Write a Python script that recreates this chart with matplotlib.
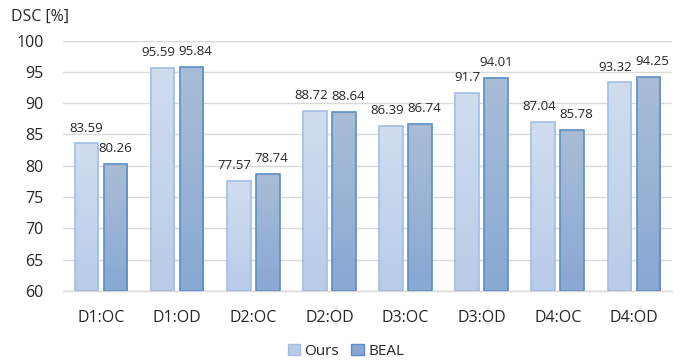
import numpy as np
import matplotlib
matplotlib.use("Agg")
import matplotlib.pyplot as plt
from matplotlib.patches import Patch
from matplotlib.colors import LinearSegmentedColormap

categories = ["D1:OC", "D1:OD", "D2:OC", "D2:OD", "D3:OC", "D3:OD", "D4:OC", "D4:OD"]
ours = [83.59, 95.59, 77.57, 88.72, 86.39, 91.7, 87.04, 93.32]
beal = [80.26, 95.84, 78.74, 88.64, 86.74, 94.01, 85.78, 94.25]
ours_labels = ["83.59", "95.59", "77.57", "88.72", "86.39", "91.7", "87.04", "93.32"]
beal_labels = ["80.26", "95.84", "78.74", "88.64", "86.74", "94.01", "85.78", "94.25"]
series_names = ["Ours", "BEAL"]
yticks = [60, 65, 70, 75, 80, 85, 90, 95, 100]

plt.rcParams["font.family"] = ["Open Sans", "DejaVu Sans"]

fig = plt.figure(figsize=(6.92, 3.64), dpi=100)
ax = fig.add_axes([0.091, 0.2005, 0.880, 0.688])

ymin, ymax = 60, 100
bar_w = 0.31
gap = 0.07
x = np.arange(len(categories))

styles = {
    "Ours": dict(top="#d0ddef", bottom="#b8cce8", edge="#a2bfe3"),
    "BEAL": dict(top="#aabdd7", bottom="#88a8d2", edge="#5b8ec6"),
}

def gradient_bars(xs, vals, style):
    cmap = LinearSegmentedColormap.from_list("g", [style["bottom"], style["top"]])
    grad = np.linspace(0, 1, 256).reshape(-1, 1)
    bars = ax.bar(xs, np.array(vals) - ymin, bottom=ymin, width=bar_w,
                  facecolor="none", edgecolor=style["edge"], linewidth=1.2, zorder=3)
    for b in bars:
        x0, y0 = b.get_x(), b.get_y()
        w, h = b.get_width(), b.get_height()
        im = ax.imshow(grad, cmap=cmap, origin="lower", aspect="auto",
                       extent=(x0, x0 + w, y0, y0 + h), zorder=2, interpolation="bicubic")
        im.set_clip_path(b)
    return bars

off = (bar_w + gap) / 2
gradient_bars(x - off, ours, styles["Ours"])
gradient_bars(x + off, beal, styles["BEAL"])

ax.set_xlim(-0.5, len(categories) - 0.5)
ax.set_ylim(ymin, ymax)

label_kw = dict(ha="center", va="bottom", fontsize=9.5, color="#262626", zorder=4)
left_txt = [ax.text(xi, v + 1.4, t, **label_kw) for xi, v, t in zip(x - off, ours, ours_labels)]
right_txt = [ax.text(xi, v + 1.4, t, **label_kw) for xi, v, t in zip(x + off, beal, beal_labels)]

# push apart value labels of a group when they would collide
fig.canvas.draw()
renderer = fig.canvas.get_renderer()
px_per_unit = ax.transData.transform((1, 0))[0] - ax.transData.transform((0, 0))[0]
for lt, rt in zip(left_txt, right_txt):
    bl = lt.get_window_extent(renderer)
    br = rt.get_window_extent(renderer)
    vertical = min(bl.y1, br.y1) - max(bl.y0, br.y0)
    overlap = bl.x1 - br.x0 + 3
    if vertical > 0 and overlap > 0:
        shift = overlap / 2 / px_per_unit
        lx, ly = lt.get_position()
        rx, ry = rt.get_position()
        lt.set_position((lx - shift, ly))
        rt.set_position((rx + shift, ry))

ax.set_yticks(yticks)
ax.set_yticklabels([str(t) for t in yticks], fontsize=11.5, color="#262626")
ax.set_xticks(x)
ax.set_xticklabels(categories, fontsize=11.5, color="#262626")
ax.tick_params(axis="both", length=0)
ax.tick_params(axis="x", pad=14)
ax.tick_params(axis="y", pad=14)
ax.grid(axis="y", color="#d9d9d9", linewidth=1.0, zorder=0)
ax.set_axisbelow(True)
for s in ["top", "right", "left"]:
    ax.spines[s].set_visible(False)
ax.spines["bottom"].set_color("#d9d9d9")
ax.spines["bottom"].set_linewidth(1.0)

fig.text(0.016, 0.955, "DSC [%]", fontsize=11.5, color="#262626", ha="left", va="center")

handles = [Patch(facecolor=styles[n]["bottom"], edgecolor=styles[n]["edge"], label=n)
           for n in series_names]
fig.legend(handles=handles, loc="center", bbox_to_anchor=(0.5, 0.035), ncol=2,
           frameon=False, fontsize=11, handlelength=0.8, handleheight=0.8,
           handletextpad=0.3, columnspacing=0.8, labelcolor="#262626")

fig.savefig("out.png", dpi=100)
